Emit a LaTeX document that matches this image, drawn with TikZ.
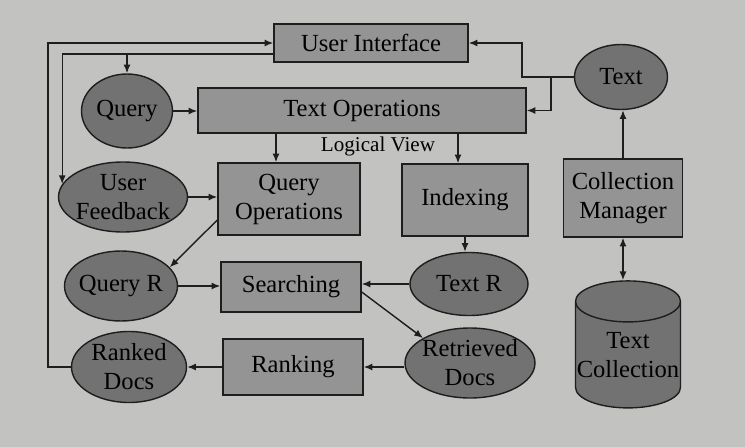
\documentclass[tikz,border=0pt]{standalone}
\usepackage{fontspec}
\setmainfont{Liberation Serif}
\usepackage{tikz}
\usetikzlibrary{shapes.geometric,calc,arrows.meta}
\definecolor{slide}{RGB}{194,194,193}
\definecolor{boxgray}{RGB}{148,148,148}
\definecolor{ovalgray}{RGB}{114,114,114}
\definecolor{ink}{RGB}{30,30,30}
\tikzset{
  box/.style={draw=ink,fill=boxgray,line width=0.8pt,font=\fontsize{14}{16.5}\selectfont,align=center,inner sep=1pt},
  oval/.style={ellipse,draw=ink,fill=ovalgray,line width=0.8pt,font=\fontsize{14}{16.5}\selectfont,align=center,inner sep=-6pt},
  store/.style={cylinder,shape border rotate=90,aspect=0.4,draw=ink,fill=ovalgray,line width=0.8pt,font=\fontsize{14}{16.5}\selectfont,align=center,inner sep=0pt},
  link/.style={->,line width=0.8pt,draw=ink},
}

\begin{document}
\begin{tikzpicture}[x=0.02cm,y=-0.02cm,>={Latex[length=5pt,width=4pt]}]
  \fill[slide] (0,0) rectangle (745,447);
  \useasboundingbox (0,0) rectangle (745,447);
  % boxes
  \node[box,minimum width=3.88cm,minimum height=0.76cm] (ui) at (371,43) {User Interface};
  \node[box,minimum width=6.56cm,minimum height=0.9cm] (textops) at (362,110.5) {Text Operations};
  \node[font=\fontsize{12}{14}\selectfont] (logview) at (378,146) {Logical View};
  \node[box,minimum width=2.84cm,minimum height=1.44cm] (queryops) at (289,199) {Query\\Operations};
  \node[box,minimum width=2.52cm,minimum height=1.44cm] (indexing) at (465,200) {Indexing};
  \node[box,minimum width=2.38cm,minimum height=1.56cm] (collmgr) at (623,198) {Collection\\Manager};
  \node[box,minimum width=2.8cm,minimum height=1.0cm] (searching) at (291,287) {Searching};
  \node[box,minimum width=2.8cm,minimum height=1.12cm] (ranking) at (293,367) {Ranking};
  % ovals
  \node[oval,minimum width=1.82cm,minimum height=1.48cm] (query) at (127,111) {Query};
  \node[oval,minimum width=1.86cm,minimum height=1.3cm] (text) at (621,77) {Text};
  \node[oval,minimum width=2.58cm,minimum height=1.4cm] (feedback) at (123,197) {User\\Feedback};
  \node[oval,minimum width=2.26cm,minimum height=1.4cm] (queryr) at (121,286) {Query R};
  \node[oval,minimum width=2.36cm,minimum height=1.26cm] (textr) at (469,284) {Text R};
  \node[oval,minimum width=2.6cm,minimum height=1.4cm] (retrieved) at (470,363) {Retrieved\\Docs};
  \node[oval,minimum width=2.3cm,minimum height=1.42cm] (ranked) at (129,367) {Ranked\\Docs};
  \node[store,minimum width=2.1cm,minimum height=2.54cm] (coll) at (628,355) {Text\\Collection};
  % feedback loops on the left
  \coordinate (railL) at (48,0);
  \coordinate (uiin) at ($(ui.west)+(0,11)$);
  \draw[link] (ranked.west) -- (ranked.west -| railL) |- (ui.west);
  \draw[link] (uiin) -| (feedback.168);
  \draw[link] (uiin -| query.north) -- (query.north);
  % text source
  \draw[link] (text.west) -- ++(-52,0) |- (ui.east);
  \draw[link] ($(text.west)+(-23,0)$) |- (textops.east);
  \draw[link] (collmgr.north) -- (collmgr.north |- text.south);
  \draw[<->,line width=0.8pt,draw=ink] (collmgr.south) -- (collmgr.south |- coll.north);
  % main flow
  \draw[link] (query.east) -- (query.east -| textops.west);
  \draw[link] ([xshift=-0.26cm]queryops.north |- textops.south) -- ([xshift=-0.26cm]queryops.north);
  \draw[link] ([xshift=-0.14cm]indexing.north |- textops.south) -- ([xshift=-0.14cm]indexing.north);
  \draw[link] (feedback.east) -- (feedback.east -| queryops.west);
  \draw[link] ($(queryops.west)+(0,21)$) -- (queryr.21);
  \draw[link] (queryr.east) -- (queryr.east -| searching.west);
  \draw[link] (indexing.south) -- (indexing.south |- textr.north);
  \draw[link] (textr.west) -- (textr.west -| searching.east);
  \draw[link] ($(searching.east)+(0,5)$) -- (retrieved.152);
  \draw[link] (ranking.east -| retrieved.west) -- (ranking.east);
  \draw[link] (ranking.west) -- (ranking.west -| ranked.east);
\end{tikzpicture}
\end{document}
